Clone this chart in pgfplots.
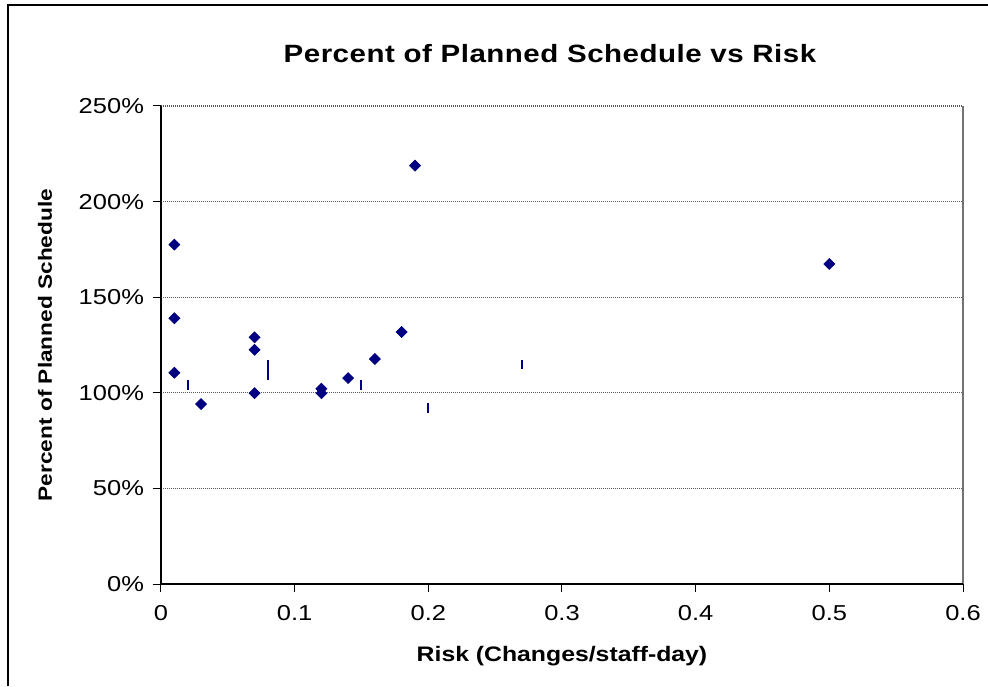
\documentclass[border=0pt]{standalone}
\usepackage{fontspec}
\setmainfont{Liberation Sans}[FakeStretch=1.18]
\usepackage{pgfplots}
\pgfplotsset{compat=1.18}
\definecolor{navyc}{RGB}{0,0,128}
\begin{document}
\begin{tikzpicture}
\useasboundingbox (-80.5pt,-51pt) rectangle (413.5pt,292pt);
\draw[line width=1pt] (-76.5pt,-51pt) -- (-76.5pt,289.5pt) -- (413.5pt,289.5pt);
\begin{axis}[
  at={(0pt,0pt)}, anchor=origin,
  scale only axis, width=401pt, height=239pt,
  xmin=0, xmax=0.6, ymin=0, ymax=250,
  xtick={0,0.1,0.2,0.3,0.4,0.5,0.6},
  ytick={0,50,100,150,200,250},
  xticklabels={0,0.1,0.2,0.3,0.4,0.5,0.6},
  yticklabel={\pgfmathprintnumber{\tick}\%},
  /pgf/number format/assume math mode=true,
  tick label style={font=\fontsize{10.8}{12}\selectfont, black},
  xticklabel style={yshift=-3pt},
  yticklabel style={xshift=-1pt},
  axis line style={draw=none},
  tick align=outside, xtick pos=bottom, ytick pos=left,
  major tick length=4pt,
  tick style={black, line width=0.5pt},
  ymajorgrids,
  grid style={black!65, line width=0.6pt, dash pattern=on 0.6pt off 0.4pt},
  clip=false,
]
\addplot[only marks, mark=square*, mark size=1.95pt, color=navyc, mark options={rotate=45, fill=navyc, draw=navyc, line width=0.3pt}] coordinates {
(0.01,177.5) (0.01,139) (0.01,110.5) (0.03,94.1)
(0.07,129) (0.07,122.5) (0.07,99.8)
(0.12,102.1) (0.12,99.8) (0.14,107.7) (0.16,117.7) (0.18,131.8)
(0.19,218.8) (0.5,167.4)
};
\addplot[only marks, mark=|, mark size=2.4pt, color=navyc, mark options={line width=1pt}] coordinates {
(0.02,104) (0.08,114.5) (0.08,109.3) (0.15,104) (0.2,92) (0.27,114.8)
};
\draw[black!55, line width=0.6pt] (rel axis cs:1,0) -- (rel axis cs:1,1);
\draw[black, line width=0.8pt] (rel axis cs:0,0) -- (rel axis cs:0,1);
\draw[black, line width=0.8pt] (rel axis cs:0,0) -- (rel axis cs:1,0);
\end{axis}
\node[font=\bfseries\fontsize{12.5}{14}\selectfont] at (194.5pt,265pt) {\addfontfeature{LetterSpace=2}Percent of Planned Schedule vs Risk};
\node[font=\bfseries\fontsize{10.5}{12}\selectfont] at (200.5pt,-36pt) {Risk (Changes/staff-day)};
\node[font=\bfseries\fontsize{9.6}{12}\selectfont, rotate=90] at (-58pt,119.5pt) {Percent of Planned Schedule};
\end{tikzpicture}
\end{document}
